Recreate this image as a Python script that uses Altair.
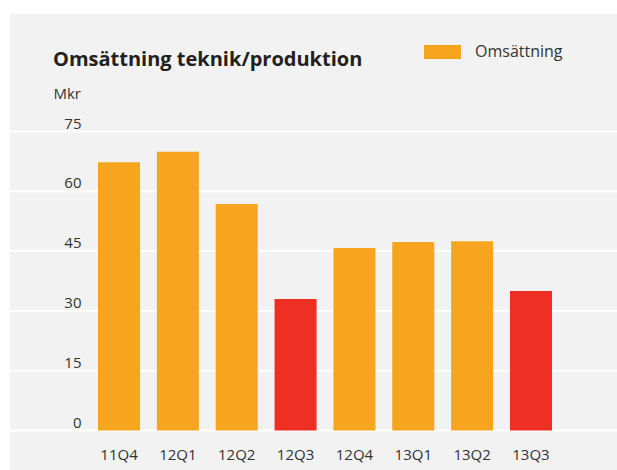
import altair as alt
import pandas as pd

# ---- data ----
quarters = ["11Q4", "12Q1", "12Q2", "12Q3", "12Q4", "13Q1", "13Q2", "13Q3"]
revenue = [67.3, 69.9, 56.8, 33.0, 45.8, 47.3, 47.5, 35.0]
highlight = [False, False, False, True, False, False, False, True]
series_name = "Omsättning"
y_ticks = [0, 15, 30, 45, 60, 75]
title_text = "Omsättning teknik/produktion"
unit_text = "Mkr"

# ---- style ----
ORANGE = "#f7a51e"
RED = "#ee3024"
PANEL = "#f2f2f2"
TEXT = "#333333"
FONT = "Open Sans"

W, H = 454, 299
PAD_L, PAD_T, PAD_R, PAD_B = 98, 131.5, 65, 39.5

df = pd.DataFrame({"kvartal": quarters, "mkr": revenue, "hl": highlight,
                   "serie": [series_name] * len(quarters)})
grid_df = pd.DataFrame({"v": y_ticks})
one_df = pd.DataFrame({"a": [0]})

yscale = alt.Scale(domain=[0, 75], nice=False, zero=True)
y_axis = alt.Axis(values=y_ticks, grid=False, ticks=False, domain=False,
                  labelPadding=17, labelOffset=-3.5, labelBaseline="alphabetic",
                  labelFontSize=15, zindex=1,
                  title=unit_text, titleAngle=0, titleX=-45, titleY=-33,
                  titleAlign="left", titleBaseline="alphabetic",
                  titleFontWeight="normal", titleFontSize=15)

panel = alt.Chart(one_df).mark_rect(color=PANEL).encode(
    x=alt.value(-88), x2=alt.value(W + PAD_R),
    y=alt.value(-117.5), y2=alt.value(H + PAD_B),
)

grid = alt.Chart(grid_df).mark_rule(color="white", strokeWidth=2).encode(
    y=alt.Y("v:Q", scale=yscale, axis=y_axis),
    x=alt.value(-88), x2=alt.value(W + PAD_R),
)

bars = alt.Chart(df).mark_bar().encode(
    x=alt.X("kvartal:N", sort=quarters,
            scale=alt.Scale(paddingInner=0.286, paddingOuter=0),
            axis=alt.Axis(title=None, ticks=False, domain=False, labelAngle=0,
                          labelPadding=17, labelFontSize=15, zindex=1)),
    y=alt.Y("mkr:Q", scale=yscale, axis=y_axis),
    color=alt.condition(
        alt.datum.hl, alt.value(RED),
        alt.Color("serie:N", scale=alt.Scale(domain=[series_name], range=[ORANGE]),
                  legend=alt.Legend(title=None, orient="none", legendX=326, legendY=-98,
                                    symbolType="M-1,-0.38H1V0.38H-1Z", symbolSize=1369,
                                    symbolStrokeWidth=0, labelFontSize=16, labelOffset=14,
                                    labelFont=FONT, labelColor=TEXT, padding=0)),
    ),
)

chart = alt.layer(panel, grid, bars).properties(
    width=W, height=H,
    padding={"left": PAD_L, "top": PAD_T, "right": PAD_R, "bottom": PAD_B},
    autosize="none",
    background="white",
    title=alt.TitleParams(title_text, anchor="start", frame="group", dx=-45, dy=99,
                          font=FONT, fontSize=20, fontWeight="bold", color="#231f20",
                          baseline="alphabetic", offset=27),
).configure_view(stroke=None).configure_axis(
    labelFont=FONT, titleFont=FONT, labelColor=TEXT, titleColor=TEXT
)

chart.save("out.html", embed_options={"renderer": "svg", "actions": False})
